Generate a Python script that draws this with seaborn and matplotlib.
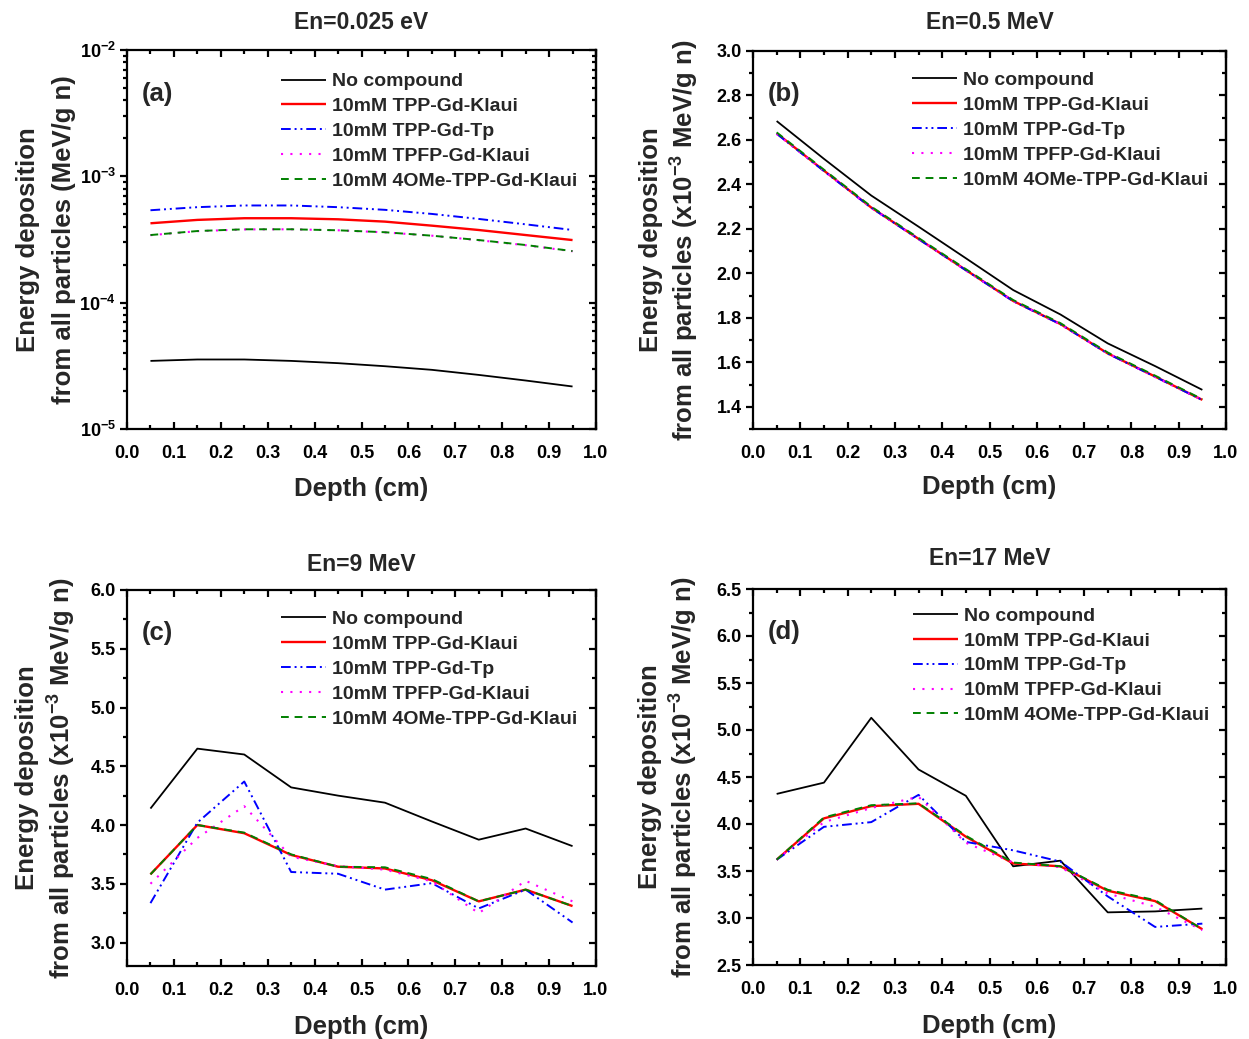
import numpy as np
import pandas as pd
import matplotlib
matplotlib.use("Agg")
import matplotlib.pyplot as plt
from matplotlib.ticker import MultipleLocator, FuncFormatter, LogLocator, NullFormatter
import seaborn as sns

# ---- data -------------------------------------------------------------
depth = [0.05, 0.15, 0.25, 0.35, 0.45, 0.55, 0.65, 0.75, 0.85, 0.95]

series_names = ["No compound", "10mM TPP-Gd-Klaui", "10mM TPP-Gd-Tp",
                "10mM TPFP-Gd-Klaui", "10mM 4OMe-TPP-Gd-Klaui"]

# En = 0.025 eV  (MeV/g n)
a_none = [3.46e-5, 3.55e-5, 3.55e-5, 3.46e-5, 3.32e-5, 3.14e-5, 2.94e-5, 2.68e-5, 2.42e-5, 2.17e-5]
a_tpp_klaui = [4.25e-4, 4.52e-4, 4.66e-4, 4.66e-4, 4.57e-4, 4.38e-4, 4.07e-4, 3.76e-4, 3.43e-4, 3.13e-4]
a_tpp_tp = [5.39e-4, 5.70e-4, 5.88e-4, 5.88e-4, 5.70e-4, 5.43e-4, 5.04e-4, 4.60e-4, 4.17e-4, 3.76e-4]
a_tpfp_klaui = [3.42e-4, 3.68e-4, 3.80e-4, 3.81e-4, 3.74e-4, 3.60e-4, 3.39e-4, 3.12e-4, 2.85e-4, 2.55e-4]
a_ome_klaui = [3.43e-4, 3.69e-4, 3.81e-4, 3.81e-4, 3.74e-4, 3.61e-4, 3.39e-4, 3.13e-4, 2.86e-4, 2.56e-4]

# En = 0.5 MeV  (x1e-3 MeV/g n)
b_none = [2.685, 2.515, 2.350, 2.210, 2.068, 1.925, 1.815, 1.685, 1.583, 1.476]
b_tpp_klaui = [2.630, 2.462, 2.296, 2.155, 2.015, 1.876, 1.772, 1.640, 1.536, 1.431]
b_tpp_tp = [2.628, 2.460, 2.295, 2.154, 2.014, 1.875, 1.771, 1.639, 1.535, 1.430]
b_tpfp_klaui = [2.627, 2.461, 2.294, 2.155, 2.013, 1.876, 1.770, 1.640, 1.534, 1.430]
b_ome_klaui = [2.634, 2.466, 2.300, 2.159, 2.019, 1.880, 1.776, 1.644, 1.540, 1.434]

# En = 9 MeV  (x1e-3 MeV/g n)
c_none = [4.14, 4.65, 4.60, 4.32, 4.25, 4.19, 4.03, 3.875, 3.97, 3.82]
c_tpp_klaui = [3.58, 4.00, 3.93, 3.745, 3.645, 3.63, 3.53, 3.35, 3.45, 3.31]
c_tpp_tp = [3.335, 4.02, 4.37, 3.60, 3.585, 3.45, 3.505, 3.29, 3.45, 3.17]
c_tpfp_klaui = [3.50, 3.89, 4.16, 3.73, 3.65, 3.62, 3.52, 3.25, 3.525, 3.35]
c_ome_klaui = [3.58, 4.00, 3.935, 3.75, 3.645, 3.64, 3.54, 3.35, 3.45, 3.31]

# En = 17 MeV  (x1e-3 MeV/g n)
d_none = [4.32, 4.44, 5.13, 4.58, 4.30, 3.55, 3.61, 3.06, 3.07, 3.10]
d_tpp_klaui = [3.62, 4.06, 4.19, 4.215, 3.865, 3.58, 3.55, 3.29, 3.18, 2.88]
d_tpp_tp = [3.62, 3.97, 4.02, 4.31, 3.81, 3.72, 3.60, 3.23, 2.905, 2.94]
d_tpfp_klaui = [3.62, 4.02, 4.17, 4.29, 3.80, 3.59, 3.54, 3.26, 3.12, 2.87]
d_ome_klaui = [3.62, 4.07, 4.20, 4.22, 3.875, 3.59, 3.55, 3.30, 3.19, 2.88]

titles = ["En=0.025 eV", "En=0.5 MeV", "En=9 MeV", "En=17 MeV"]
panel_tags = ["(a)", "(b)", "(c)", "(d)"]

# ---- style ------------------------------------------------------------
sns.set_theme(style="ticks")
plt.rcParams.update({
    "font.family": ["Liberation Sans", "DejaVu Sans"],
    "font.weight": "bold",
    "axes.labelweight": "bold",
    "axes.titleweight": "bold",
    "mathtext.fontset": "custom",
    "mathtext.rm": "Liberation Sans:bold",
    "mathtext.bf": "Liberation Sans:bold",
    "mathtext.it": "Liberation Sans:bold:italic",
    "mathtext.default": "bf",
    "axes.linewidth": 1.6,
    "axes.edgecolor": "black",
    "xtick.color": "black",
    "ytick.color": "black",
})

palette = {series_names[0]: "black", series_names[1]: "#ff0000",
           series_names[2]: "#0000ff", series_names[3]: "#ff00ff",
           series_names[4]: "#008000"}
dash_map = {series_names[0]: "", series_names[1]: "",
            series_names[2]: (5, 2, 1, 2, 1, 2), series_names[3]: (1, 3.5),
            series_names[4]: (4, 3)}
widths = [1.3, 1.7, 1.4, 1.5, 1.4]

W, H = 1249, 1039
fig = plt.figure(figsize=(W / 100, H / 100), dpi=100)

boxes = [(127, 50, 596, 429), (753, 51, 1226, 429),
         (127, 590, 596, 966), (753, 589, 1226, 965)]

datasets = [
    [a_none, a_tpp_klaui, a_tpp_tp, a_tpfp_klaui, a_ome_klaui],
    [b_none, b_tpp_klaui, b_tpp_tp, b_tpfp_klaui, b_ome_klaui],
    [c_none, c_tpp_klaui, c_tpp_tp, c_tpfp_klaui, c_ome_klaui],
    [d_none, d_tpp_klaui, d_tpp_tp, d_tpfp_klaui, d_ome_klaui],
]
ylims = [(1e-5, 1e-2), (1.3, 3.0), (2.8, 6.0), (2.5, 6.5)]
ymajor = [None, 0.2, 0.5, 0.5]
ylabel_bottom = ["from all particles (MeV/g n)",
                 r"from all particles (x10$^{-3}$ MeV/g n)",
                 r"from all particles (x10$^{-3}$ MeV/g n)",
                 r"from all particles (x10$^{-3}$ MeV/g n)"]
ylabel_x = [-0.109, -0.109, -0.105, -0.112]
ylabel_spacing = [1.6, 1.25, 1.25, 1.25]
legend_anchor = [(0.328, 0.940), (0.336, 0.946), (0.328, 0.946), (0.338, 0.952)]
title_pad = [15, 16, 13.5, 17]
xlabel_pad = [11, 9.5, 11.5, 11.5]
tick_fs = 13
label_fs = 18.5


def log_label(v, pos):
    exp = int(np.round(np.log10(v)))
    return r"$10^{%d}$" % exp


for i, (l, t, r, b) in enumerate(boxes):
    ax = fig.add_axes([l / W, 1 - b / H, (r - l) / W, (b - t) / H])
    frames = []
    for name, vals in zip(series_names, datasets[i]):
        frames.append(pd.DataFrame({"Depth": depth, "Energy": vals, "Series": name}))
    df = pd.concat(frames, ignore_index=True)
    sns.lineplot(data=df, x="Depth", y="Energy", hue="Series", style="Series",
                 hue_order=series_names, style_order=series_names,
                 palette=palette, dashes=dash_map, legend=False, ax=ax,
                 estimator=None, sort=False)
    lines = ax.get_lines()
    for ln, lw in zip(lines, widths):
        ln.set_linewidth(lw)
        ln.set_solid_capstyle("butt")

    ax.set_xlim(0, 1.0)
    ax.xaxis.set_major_locator(MultipleLocator(0.1))
    ax.xaxis.set_minor_locator(MultipleLocator(0.05))
    ax.xaxis.set_major_formatter(FuncFormatter(lambda v, p: f"{v:.1f}"))

    if i == 0:
        ax.set_yscale("log")
        ax.set_ylim(*ylims[i])
        ax.yaxis.set_major_locator(LogLocator(base=10, numticks=10))
        ax.yaxis.set_minor_locator(LogLocator(base=10, subs=np.arange(2, 10), numticks=20))
        ax.yaxis.set_major_formatter(FuncFormatter(log_label))
        ax.yaxis.set_minor_formatter(NullFormatter())
    else:
        ax.set_ylim(*ylims[i])
        ax.yaxis.set_major_locator(MultipleLocator(ymajor[i]))
        ax.yaxis.set_minor_locator(MultipleLocator(ymajor[i] / 2))
        ax.yaxis.set_major_formatter(FuncFormatter(lambda v, p: f"{v:.1f}"))

    ax.tick_params(axis="x", which="both", direction="in", top=True, bottom=True,
                   labelsize=tick_fs, pad=11.5, width=1.6)
    ax.tick_params(axis="x", which="major", length=5)
    ax.tick_params(axis="x", which="minor", length=3)
    ax.tick_params(axis="y", which="both", direction="out", left=True, right=False,
                   labelsize=tick_fs, pad=3, width=1.6)
    ax.tick_params(axis="y", which="major", length=5)
    ax.tick_params(axis="y", which="minor", length=3)

    # inward ticks along the right spine
    sec = ax.secondary_yaxis("right")
    if i == 0:
        sec.yaxis.set_major_locator(LogLocator(base=10, numticks=10))
        sec.yaxis.set_minor_locator(LogLocator(base=10, subs=np.arange(2, 10), numticks=20))
    else:
        sec.yaxis.set_major_locator(MultipleLocator(ymajor[i]))
        sec.yaxis.set_minor_locator(MultipleLocator(ymajor[i] / 2))
    sec.tick_params(which="both", direction="in", labelright=False, width=1.6)
    sec.tick_params(which="major", length=5)
    sec.tick_params(which="minor", length=3)
    sec.spines["right"].set_linewidth(1.6)

    for s in ax.spines.values():
        s.set_visible(True)
        s.set_linewidth(1.6)

    ax.set_xlabel("Depth (cm)", fontsize=label_fs, labelpad=xlabel_pad[i])
    ax.set_ylabel("Energy deposition\n" + ylabel_bottom[i], fontsize=label_fs,
                  linespacing=ylabel_spacing[i])
    ax.yaxis.set_label_coords(ylabel_x[i], 0.5)
    ax.set_title(titles[i], fontsize=16.5, pad=title_pad[i])

    ax.text(0.032, 0.885, panel_tags[i], transform=ax.transAxes,
            fontsize=18.5, va="center", ha="left")

    ax.legend(lines, series_names, loc="upper left", bbox_to_anchor=legend_anchor[i],
              frameon=False, fontsize=14, handlelength=2.3, handletextpad=0.35,
              labelspacing=0.375, borderpad=0, borderaxespad=0)

fig.savefig("out.png", dpi=100, facecolor="white")
